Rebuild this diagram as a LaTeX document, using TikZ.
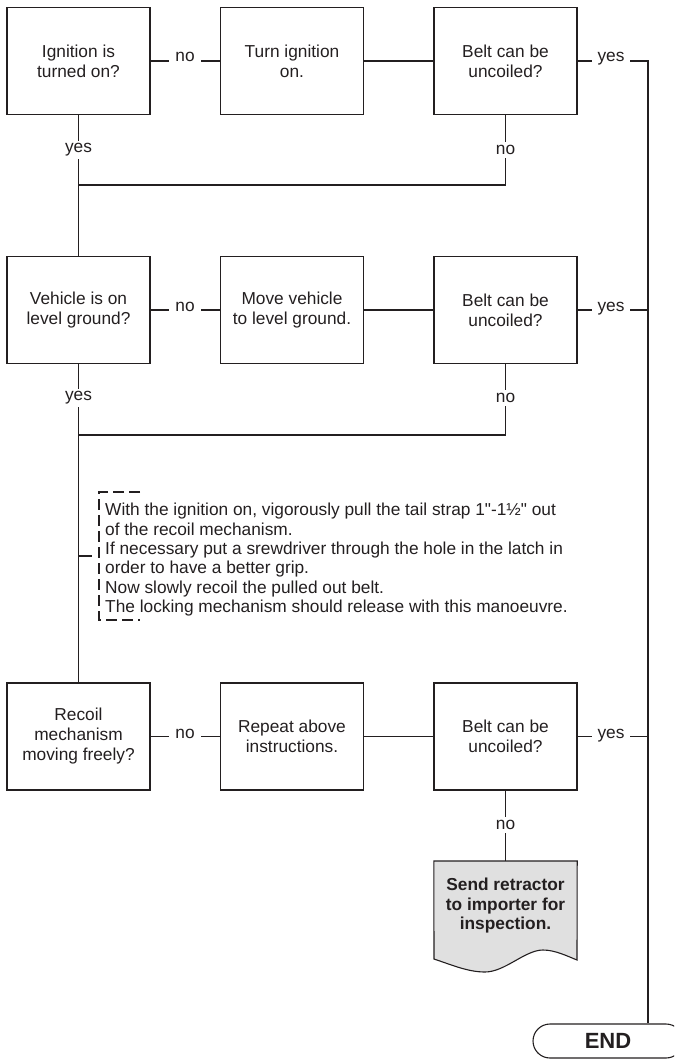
\documentclass[tikz,border=0pt]{standalone}
\usepackage{fontspec}
\setmainfont{Liberation Sans}[Ligatures=TeXOff]
\definecolor{ink}{RGB}{35,31,32}
\definecolor{docgray}{RGB}{224,224,224}
\begin{document}
\begin{tikzpicture}[x=1pt,y=-1pt,
  box/.style={draw=ink, line width=1.1pt, minimum width=143pt, minimum height=107pt,
    align=center, inner sep=0pt, text=ink, font=\fontsize{17.3}{20}\selectfont},
  lbl/.style={draw=none, fill=white, inner ysep=3pt, inner xsep=6pt, text=ink, font=\fontsize{17.3}{20}\selectfont},
  ln/.style={draw=ink, line width=1.1pt},
  bracket/.style={draw=ink, line width=1.1pt, dash pattern=on 11pt off 5pt},
]
\useasboundingbox (0,0) rectangle (674,1059);

% row 1
\node[box] (b11) at (78.5,61) {Ignition is\\turned on?};
\node[box] (b12) at (292,61) {Turn ignition\\on.};
\node[box] (b13) at (505.5,61) {Belt can be\\uncoiled?};
% row 2
\node[box] (b21) at (78.5,310) {Vehicle is on\\level ground?};
\node[box] (b22) at (292,310) {Move vehicle\\to level ground.};
\node[box] (b23) at (505.5,310) {Belt can be\\uncoiled?};
% row 3
\node[box] (b31) at (78.5,736.5) {Recoil\\mechanism\\moving freely?};
\node[box] (b32) at (292,736.5) {Repeat above\\instructions.};
\node[box] (b33) at (505.5,736.5) {Belt can be\\uncoiled?};

% end terminal
\begin{scope}
\clip (0,0) rectangle (674,1059);
\node[draw=ink, line width=1.1pt, rounded corners=17pt, minimum width=150pt, minimum height=34pt,
  inner sep=0pt, text=ink, font=\fontsize{22}{26}\selectfont\bfseries] (end) at (608,1041) {END};
\end{scope}

% document shape
\node[minimum width=143pt, minimum height=99pt, inner sep=0pt, anchor=north] (send) at (505.5,861) {};
\draw[ln, fill=docgray] (send.north west) -- (send.north east) -- (577,960)
  .. controls (567,956) and (555,950) .. (543,950)
  .. controls (525,950) and (505,972) .. (485,972)
  .. controls (468,972) and (452,965) .. (434,959) -- cycle;
\node[align=center, inner sep=0pt, text=ink, font=\fontsize{17.3}{19.5}\selectfont\bfseries] (sendtxt) at (505.5,906)
  {Send retractor\\to importer for\\inspection.};

% coordinates
\coordinate (r1) at (648,61);
\coordinate (j1) at (78.5,185);
\coordinate (j2) at (78.5,435);
\coordinate (a0) at (78.5,556);
\coordinate (a1) at (92,556);

% row 1 connectors
\draw[ln] (b11.east) -- (b12.west);
\node[lbl, anchor=base] at (185,62) {no};
\draw[ln] (b12.east) -- (b13.west);
\draw[ln] (b13.east) -- (r1) -- (r1 |- end.north);
\node[lbl, anchor=base] at (611,62) {yes};
\draw[ln] (b11.south) -- (b21.north);
\node[lbl] at (78.5,150) {yes};
\draw[ln] (b13.south) -- (b13.south |- j1) -- (j1);
\node[lbl] at (505.5,150) {no};

% row 2 connectors
\draw[ln] (b21.east) -- (b22.west);
\node[lbl, anchor=base] at (185,311) {no};
\draw[ln] (b22.east) -- (b23.west);
\draw[ln] (b23.east) -- (b23.east -| r1);
\node[lbl, anchor=base] at (611,311) {yes};
\draw[ln] (b21.south) -- (b31.north);
\node[lbl] at (78.5,398) {yes};
\draw[ln] (b23.south) -- (b23.south |- j2) -- (j2);
\node[lbl] at (505.5,398) {no};

% annotation
\draw[ln] (a0) -- (a1);
\draw[bracket] (140,492) -- (99,492) -- (99,620) -- (140,620);
\node[anchor=north west, align=left, inner sep=0pt, text=ink, font=\fontsize{17.3}{19.4}\selectfont] (note) at (105,503)
  {With the ignition on, vigorously pull the tail strap 1"-1½" out\\
   of the recoil mechanism.\\
   If necessary put a srewdriver through the hole in the latch in\\
   order to have a better grip.\\
   Now slowly recoil the pulled out belt.\\
   The locking mechanism should release with this manoeuvre.};

% row 3 connectors
\draw[ln] (b31.east) -- (b32.west);
\node[lbl, anchor=base] at (185,738) {no};
\draw[ln] (b32.east) -- (b33.west);
\draw[ln] (b33.east) -- (b33.east -| r1);
\node[lbl, anchor=base] at (611,738) {yes};
\draw[ln] (b33.south) -- (send.north);
\node[lbl] at (505.5,825) {no};
\end{tikzpicture}
\end{document}
